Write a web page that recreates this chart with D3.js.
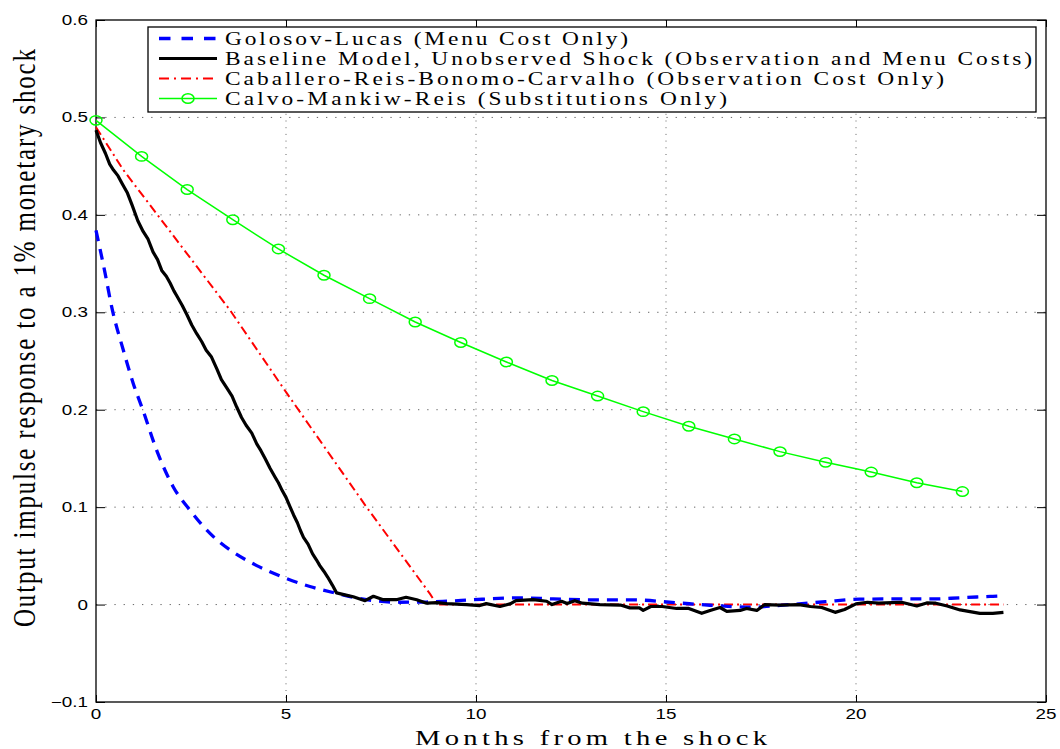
<!DOCTYPE html>
<html>
<head>
<meta charset="utf-8">
<script src="https://cdn.jsdelivr.net/npm/d3@7"></script>
<style>
  html, body { margin: 0; padding: 0; background: #fff; }
  svg { display: block; }
</style>
</head>
<body>
<svg id="chart" width="1060" height="749"></svg>
<script>
// ---------------- data ----------------
const xTicks = [0, 5, 10, 15, 20, 25];
const xTickLabels = ["0", "5", "10", "15", "20", "25"];
const yTicks = [-0.1, 0, 0.1, 0.2, 0.3, 0.4, 0.5, 0.6];
const yTickLabels = ["\u22120.1", "0", "0.1", "0.2", "0.3", "0.4", "0.5", "0.6"];

const seriesNames = [
  "Golosov-Lucas (Menu Cost Only)",
  "Baseline Model, Unobserved Shock (Observation and Menu Costs)",
  "Caballero-Reis-Bonomo-Carvalho (Observation Cost Only)",
  "Calvo-Mankiw-Reis (Substitutions Only)"
];

// Golosov-Lucas (months, response)
const glMonths = [0, 0.24, 0.41, 0.72, 0.98, 1.24, 1.6, 2.03, 2.47, 3.0, 3.53, 4.23, 4.93, 5.63, 6.33, 7.12, 8.0, 8.7, 9.23, 9.93, 11.16, 12.03, 13.26, 14.14, 15.28, 16.16, 17.3, 17.8, 18.5, 19.2, 20.1, 20.98, 22.03, 22.74, 23.6, 23.88];
const glValues = [0.384, 0.340, 0.306, 0.261, 0.227, 0.199, 0.158, 0.121, 0.097, 0.073, 0.056, 0.040, 0.028, 0.0185, 0.0115, 0.005, 0.0024, 0.0026, 0.0034, 0.005, 0.0069, 0.0058, 0.0048, 0.0048, 0.0018, -0.0007, -0.0027, -0.0014, 0.0007, 0.003, 0.0055, 0.0058, 0.0058, 0.007, 0.0085, 0.009];

// Baseline model
const bmMonths = [0, 0.12, 0.25, 0.36, 0.46, 0.58, 0.69, 0.82, 0.95, 1.1, 1.24, 1.37, 1.5, 1.62, 1.73, 1.85, 1.95, 2.05, 2.14, 2.27, 2.4, 2.52, 2.65, 2.78, 2.9, 3.04, 3.18, 3.3, 3.45, 3.58, 3.7, 3.83, 3.95, 4.1, 4.23, 4.34, 4.45, 4.58, 4.71, 4.8, 4.9, 5.0, 5.11, 5.2, 5.3, 5.38, 5.46, 5.58, 5.7, 5.8, 5.89, 6.0, 6.1, 6.22, 6.33, 6.55, 6.77, 7.08, 7.3, 7.56, 7.9, 8.16, 8.44, 8.7, 8.97, 9.23, 9.75, 10.1, 10.27, 10.63, 10.9, 11.05, 11.5, 11.86, 12.0, 12.25, 12.4, 12.6, 12.8, 13.26, 13.8, 14.05, 14.3, 14.4, 14.6, 14.9, 15.28, 15.6, 15.94, 16.16, 16.42, 16.6, 16.95, 17.12, 17.39, 17.6, 18.0, 18.5, 18.8, 19.1, 19.45, 19.7, 20.0, 20.3, 20.6, 20.95, 21.2, 21.6, 21.86, 22.1, 22.4, 22.74, 23.26, 23.6, 23.88];
const bmValues = [0.487, 0.474, 0.463, 0.452, 0.446, 0.440, 0.432, 0.423, 0.41, 0.394, 0.383, 0.375, 0.362, 0.354, 0.343, 0.337, 0.330, 0.322, 0.316, 0.307, 0.297, 0.287, 0.278, 0.270, 0.261, 0.254, 0.242, 0.231, 0.222, 0.214, 0.203, 0.192, 0.184, 0.176, 0.165, 0.158, 0.150, 0.140, 0.131, 0.125, 0.117, 0.110, 0.100, 0.092, 0.084, 0.076, 0.069, 0.062, 0.052, 0.046, 0.040, 0.034, 0.028, 0.020, 0.012, 0.010, 0.008, 0.004, 0.0085, 0.005, 0.005, 0.0075, 0.005, 0.0014, 0.002, 0.001, 0, -0.001, 0.001, -0.002, 0.0007, 0.004, 0.005, 0.0034, 0, 0.0034, 0.001, 0.004, 0.0014, 0, -0.0005, -0.0034, -0.0034, -0.006, -0.002, -0.002, -0.004, -0.004, -0.009, -0.006, -0.003, -0.007, -0.006, -0.004, -0.006, 0, -0.0005, 0, -0.002, -0.003, -0.008, -0.005, 0.0007, 0.0024, 0.0014, 0.002, 0.0024, -0.0014, 0.0017, 0.0014, -0.0014, -0.0055, -0.009, -0.009, -0.008];

// Caballero-Reis-Bonomo-Carvalho
const crMonths = [0, 0.72, 3.53, 5.02, 7.12, 8.79, 8.97, 10, 12, 14, 16, 18, 20, 22, 23.88];
const crValues = [0.49, 0.446, 0.302, 0.217, 0.100, 0.011, 0, 0, 0, 0, 0, 0, 0, 0, 0];

// Calvo-Mankiw-Reis
const cmMonths = [0, 1.2, 2.4, 3.6, 4.8, 6.0, 7.2, 8.4, 9.6, 10.8, 12.0, 13.2, 14.4, 15.6, 16.8, 18.0, 19.2, 20.4, 21.6, 22.8];
const cmValues = [0.497, 0.460, 0.426, 0.395, 0.365, 0.338, 0.314, 0.290, 0.269, 0.249, 0.230, 0.214, 0.198, 0.183, 0.170, 0.157, 0.146, 0.136, 0.125, 0.116];

// ---------------- drawing ----------------
const SX = 1.3; // horizontal stretch of the original figure
const svg = d3.select("#chart");
const L = 96, R = 1046, T = 20, B = 702;

const x = d3.scaleLinear().domain([0, 25]).range([L, R]);
const y = d3.scaleLinear().domain([-0.1, 0.6]).range([B, T]);

function sText(parent, px, py, str, o) {
  const g = parent.append("g").attr("transform", `translate(${px},${py}) scale(${SX},1)`);
  const t = g.append("text").text(str)
    .attr("font-family", o.family)
    .attr("font-size", o.size)
    .attr("text-anchor", o.anchor || "start")
    .attr("fill", "#000");
  if (o.width) t.attr("textLength", o.width / SX).attr("lengthAdjust", "spacing");
  return t;
}

// grid
const grid = svg.append("g");
grid.selectAll(".gx").data(xTicks.slice(1, -1)).enter().append("line")
  .attr("x1", d => x(d)).attr("x2", d => x(d)).attr("y1", T).attr("y2", B)
  .attr("stroke", "#666").attr("stroke-width", 1).attr("stroke-dasharray", "1,5.7");
grid.selectAll(".gy").data(yTicks.slice(1, -1)).enter().append("line")
  .attr("y1", d => y(d)).attr("y2", d => y(d)).attr("x1", L).attr("x2", R)
  .attr("stroke", "#666").attr("stroke-width", 1).attr("stroke-dasharray", "1.3,7.9");

// axes via d3 axis generators (inside ticks, both sides)
const tickStyle = g => { g.selectAll("path").remove(); g.selectAll("text").remove(); g.selectAll("line").attr("stroke", "#000"); };
svg.append("g").attr("transform", `translate(0,${B})`).call(d3.axisBottom(x).tickValues(xTicks).tickSizeInner(-7).tickSizeOuter(0)).call(tickStyle);
svg.append("g").attr("transform", `translate(0,${T})`).call(d3.axisTop(x).tickValues(xTicks).tickSizeInner(-7).tickSizeOuter(0)).call(tickStyle);
svg.append("g").attr("transform", `translate(${L},0)`).call(d3.axisLeft(y).tickValues(yTicks).tickSizeInner(-9).tickSizeOuter(0)).call(tickStyle);
svg.append("g").attr("transform", `translate(${R},0)`).call(d3.axisRight(y).tickValues(yTicks).tickSizeInner(-9).tickSizeOuter(0)).call(tickStyle);

// tick labels
xTicks.forEach((d, i) => sText(svg, x(d), 719, xTickLabels[i], { family: "Liberation Sans, Arial, sans-serif", size: 14.5, anchor: "middle" }));
yTicks.forEach((d, i) => sText(svg, 88, y(d) + 5, yTickLabels[i], { family: "Liberation Sans, Arial, sans-serif", size: 14.5, anchor: "end" }));

// box
svg.append("rect").attr("x", L).attr("y", T).attr("width", R - L).attr("height", B - T)
  .attr("fill", "none").attr("stroke", "#000").attr("stroke-width", 1.3);

// lines
const lineGen = (xs, ys, curve) => d3.line().x((d, i) => x(xs[i])).y((d, i) => y(ys[i])).curve(curve)(ys);
const plot = svg.append("g");
plot.append("path").attr("d", lineGen(crMonths, crValues, d3.curveLinear))
  .attr("fill", "none").attr("stroke", "#ff0000").attr("stroke-width", 2).attr("stroke-dasharray", "9,4,2,4");
plot.append("path").attr("d", lineGen(glMonths, glValues, d3.curveMonotoneX))
  .attr("fill", "none").attr("stroke", "#0000ff").attr("stroke-width", 3.3).attr("stroke-dasharray", "11,8");
plot.append("path").attr("d", lineGen(bmMonths, bmValues, d3.curveLinear))
  .attr("fill", "none").attr("stroke", "#000").attr("stroke-width", 3.2).attr("stroke-linejoin", "round");
plot.append("path").attr("d", lineGen(cmMonths, cmValues, d3.curveLinear))
  .attr("fill", "none").attr("stroke", "#00ff00").attr("stroke-width", 1.5);
plot.selectAll(".mk").data(cmValues).enter().append("ellipse")
  .attr("cx", (d, i) => x(cmMonths[i])).attr("cy", d => y(d))
  .attr("rx", 6).attr("ry", 4.7)
  .attr("fill", "none").attr("stroke", "#00ff00").attr("stroke-width", 1.5);

// legend
const lg = svg.append("g");
lg.append("rect").attr("x", 148).attr("y", 27).attr("width", 888).attr("height", 85)
  .attr("fill", "#fff").attr("stroke", "#000").attr("stroke-width", 1.3);
const rowY = [38.5, 58.5, 78.5, 98.5];
const textW = [403, 807, 719, 502];
const styles = [
  { c: "#0000ff", w: 3.3, da: "11.5,11" },
  { c: "#000", w: 3, da: null },
  { c: "#ff0000", w: 2, da: "10,5,2,5" },
  { c: "#00ff00", w: 1.5, da: null }
];
seriesNames.forEach((name, i) => {
  const ln = lg.append("line").attr("x1", 159).attr("x2", 217).attr("y1", rowY[i]).attr("y2", rowY[i])
    .attr("stroke", styles[i].c).attr("stroke-width", styles[i].w);
  if (styles[i].da) ln.attr("stroke-dasharray", styles[i].da);
  if (i === 3) {
    lg.append("ellipse").attr("cx", 188).attr("cy", rowY[i]).attr("rx", 6).attr("ry", 4.7)
      .attr("fill", "none").attr("stroke", styles[i].c).attr("stroke-width", 1.5);
  }
  sText(lg, 225, rowY[i] + 6, name, { family: "Liberation Serif, Times New Roman, serif", size: 18, width: textW[i] });
});

// axis titles
sText(svg, 591, 745, "Months from the shock", { family: "Liberation Serif, Times New Roman, serif", size: 22, anchor: "middle", width: 352 });
svg.append("g").attr("transform", "translate(35,338) rotate(-90) scale(1,1.3)")
  .append("text").text("Output impulse response to a 1% monetary shock")
  .attr("font-family", "Liberation Serif, Times New Roman, serif")
  .attr("font-size", 25).attr("text-anchor", "middle")
  .attr("textLength", 578).attr("lengthAdjust", "spacing").attr("fill", "#000");
</script>
</body>
</html>
